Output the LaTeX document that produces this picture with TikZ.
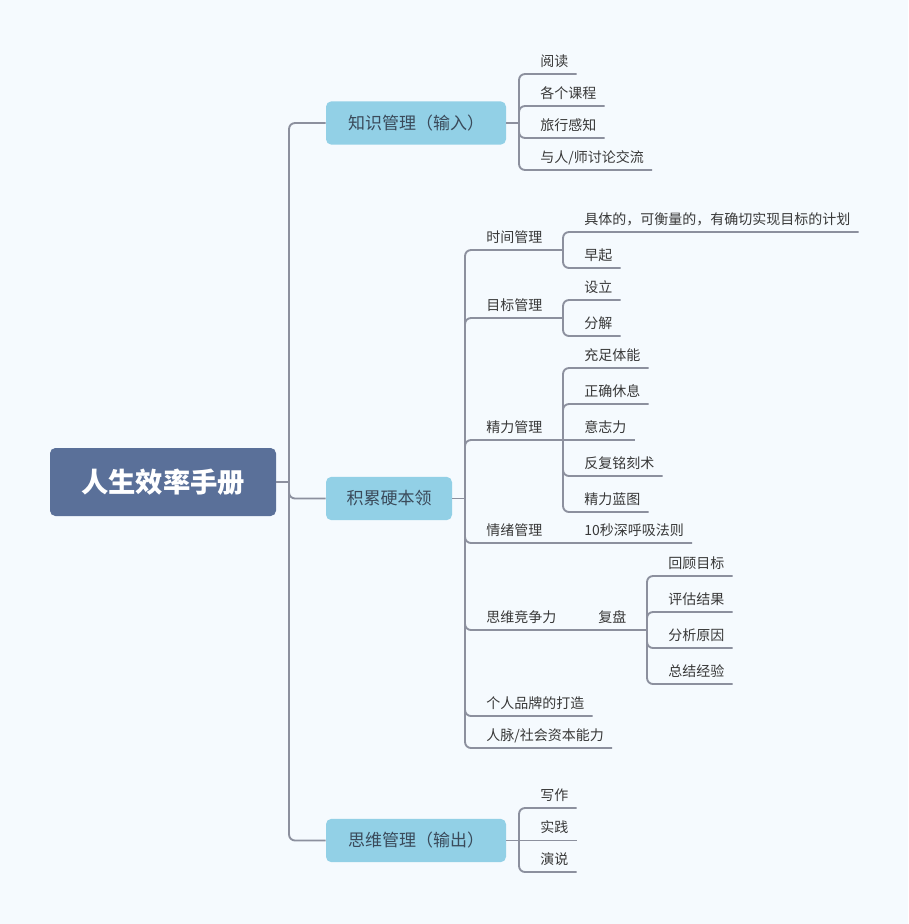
\documentclass[tikz,border=0pt]{standalone}
\usepackage{fontspec}
\setmainfont{Noto Sans CJK SC}
\definecolor{bgcol}{HTML}{F5FAFE}
\definecolor{rootcol}{HTML}{5A7099}
\definecolor{branchcol}{HTML}{92D0E6}
\definecolor{linecol}{HTML}{8C909E}
\definecolor{branchtext}{HTML}{3A4A5A}
\definecolor{leaftext}{HTML}{383838}
\tikzset{
  rootbox/.style={shape=rectangle,rounded corners=4pt,fill=rootcol,text=white,
    font=\fontsize{20.5}{24}\selectfont\bfseries,minimum width=169.5pt,minimum height=51pt},
  branchbox/.style={shape=rectangle,rounded corners=4pt,fill=branchcol,text=branchtext,
    font=\fontsize{12.75}{15}\selectfont,minimum height=32.5pt},
  leaf/.style={anchor=south west,inner xsep=6pt,inner ysep=5.6pt,text height=1ex,
    text depth=0pt,text=leaftext,font=\fontsize{10.5}{12}\selectfont},
  link/.style={draw=linecol,line width=1.4pt,rounded corners=4.5pt}
}
\begin{document}
\begin{tikzpicture}[x=0.75pt,y=-0.75pt]
    \fill[bgcol] (0,0) rectangle (908,924);

    \node[rootbox] (root) at (163,482) {人生效率手册};
    \node[branchbox,minimum width=135pt] (input) at (416,123) {知识管理（输入）};
    \node[branchbox,minimum width=94.5pt] (skill) at (389,498.5) {积累硬本领};
    \node[branchbox,minimum width=135pt] (output) at (416,840.5) {思维管理（输出）};

    \coordinate (trunk) at (289,482);
    \draw[link] (root.east) -- (trunk);
    \draw[link] (trunk) |- (input.west);
    \draw[link] (trunk) |- (skill.west);
    \draw[link] (trunk) |- (output.west);

    % 知识管理（输入）
    \coordinate (kin) at (519,123);
    \node[leaf] (read) at (532,74) {阅读};
    \node[leaf] (course) at (532,106) {各个课程};
    \node[leaf] (travel) at (532,138) {旅行感知};
    \node[leaf] (talk) at (532,170) {与人/师讨论交流};
    \draw[link] (input.east) -- (kin);
    \draw[link] (kin) |- (read.south east);
    \draw[link] (kin) |- (course.south east);
    \draw[link] (kin) |- (travel.south east);
    \draw[link] (kin) |- (talk.south east);

    % 积累硬本领
    \coordinate (ksk) at (465,498.5);
    \draw[link] (skill.east) -- (ksk);

    \node[leaf] (time) at (478,250) {时间管理};
    \coordinate (ktime) at (563,250);
    \node[leaf] (plan) at (576,232) {具体的，可衡量的，有确切实现目标的计划};
    \node[leaf] (early) at (576,268) {早起};
    \draw[link] (ksk) |- (time.south west) -- (ktime);
    \draw[link] (ktime) |- (plan.south east);
    \draw[link] (ktime) |- (early.south east);

    \node[leaf] (goal) at (478,318) {目标管理};
    \coordinate (kgoal) at (563,318);
    \node[leaf] (setup) at (576,300) {设立};
    \node[leaf] (split) at (576,336) {分解};
    \draw[link] (ksk) |- (goal.south west) -- (kgoal);
    \draw[link] (kgoal) |- (setup.south east);
    \draw[link] (kgoal) |- (split.south east);

    \node[leaf] (energy) at (478,440) {精力管理};
    \coordinate (kenergy) at (563,440);
    \node[leaf] (body) at (576,368) {充足体能};
    \node[leaf] (rest) at (576,404) {正确休息};
    \node[leaf] (will) at (576,440) {意志力};
    \node[leaf] (repeat) at (576,476) {反复铭刻术};
    \node[leaf] (blue) at (576,512) {精力蓝图};
    \draw[link] (ksk) |- (energy.south west) -- (kenergy);
    \draw[link] (kenergy) |- (body.south east);
    \draw[link] (kenergy) |- (rest.south east);
    \draw[link] (kenergy) -- (will.south east);
    \draw[link] (kenergy) |- (repeat.south east);
    \draw[link] (kenergy) |- (blue.south east);

    \node[leaf] (mood) at (478,543) {情绪管理};
    \node[leaf] (breath) at (576,543) {10秒深呼吸法则};
    \draw[link] (ksk) |- (mood.south west) -- (breath.south east);

    \node[leaf] (think) at (478,630) {思维竞争力};
    \coordinate (kthink) at (563,630);
    \node[leaf] (review) at (590,630) {复盘};
    \coordinate (kreview) at (647,630);
    \node[leaf] (aim) at (660,576) {回顾目标};
    \node[leaf] (judge) at (660,612) {评估结果};
    \node[leaf] (cause) at (660,648) {分析原因};
    \node[leaf] (sum) at (660,684) {总结经验};
    \draw[link] (ksk) |- (think.south west) -- (kthink) -- (kreview);
    \draw[link] (kreview) |- (aim.south east);
    \draw[link] (kreview) |- (judge.south east);
    \draw[link] (kreview) |- (cause.south east);
    \draw[link] (kreview) |- (sum.south east);

    \node[leaf] (brand) at (478,716) {个人品牌的打造};
    \node[leaf] (people) at (478,748) {人脉/社会资本能力};
    \draw[link] (ksk) |- (brand.south east);
    \draw[link] (ksk) |- (people.south east);

    % 思维管理（输出）
    \coordinate (kout) at (519,840.5);
    \node[leaf] (write) at (532,808) {写作};
    \node[leaf] (practice) at (532,840.5) {实践};
    \node[leaf] (speech) at (532,872) {演说};
    \draw[link] (output.east) -- (kout);
    \draw[link] (kout) |- (write.south east);
    \draw[link] (kout) -- (practice.south east);
    \draw[link] (kout) |- (speech.south east);
\end{tikzpicture}
\end{document}
